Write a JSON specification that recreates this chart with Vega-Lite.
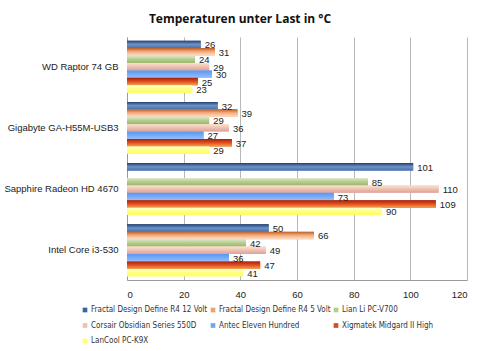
{
  "$schema": "https://vega.github.io/schema/vega-lite/v6.json",
  "width": 340,
  "height": 243,
  "autosize": "none",
  "padding": {"left": 127, "top": 37, "right": 33, "bottom": 71},
  "background": "white",
  "title": {"text": "Temperaturen unter Last in °C", "font": "Open Sans", "fontSize": 12, "fontWeight": "bold", "color": "#111111", "anchor": "middle", "dx": -57, "offset": 11},
  "config": {"view": {"stroke": null}, "font": "Liberation Sans"},
  "data": {"values": [
    {"cat": "WD Raptor 74 GB", "case": "Fractal Design Define R4 12 Volt", "t": 26},
    {"cat": "WD Raptor 74 GB", "case": "Fractal Design Define R4 5 Volt", "t": 31},
    {"cat": "WD Raptor 74 GB", "case": "Lian Li PC-V700", "t": 24},
    {"cat": "WD Raptor 74 GB", "case": "Corsair Obsidian Series 550D", "t": 29},
    {"cat": "WD Raptor 74 GB", "case": "Antec Eleven Hundred", "t": 30},
    {"cat": "WD Raptor 74 GB", "case": "Xigmatek Midgard II High", "t": 25},
    {"cat": "WD Raptor 74 GB", "case": "LanCool PC-K9X", "t": 23},
    {"cat": "Gigabyte GA-H55M-USB3", "case": "Fractal Design Define R4 12 Volt", "t": 32},
    {"cat": "Gigabyte GA-H55M-USB3", "case": "Fractal Design Define R4 5 Volt", "t": 39},
    {"cat": "Gigabyte GA-H55M-USB3", "case": "Lian Li PC-V700", "t": 29},
    {"cat": "Gigabyte GA-H55M-USB3", "case": "Corsair Obsidian Series 550D", "t": 36},
    {"cat": "Gigabyte GA-H55M-USB3", "case": "Antec Eleven Hundred", "t": 27},
    {"cat": "Gigabyte GA-H55M-USB3", "case": "Xigmatek Midgard II High", "t": 37},
    {"cat": "Gigabyte GA-H55M-USB3", "case": "LanCool PC-K9X", "t": 29},
    {"cat": "Sapphire Radeon HD 4670", "case": "Fractal Design Define R4 12 Volt", "t": 101},
    {"cat": "Sapphire Radeon HD 4670", "case": "Lian Li PC-V700", "t": 85},
    {"cat": "Sapphire Radeon HD 4670", "case": "Corsair Obsidian Series 550D", "t": 110},
    {"cat": "Sapphire Radeon HD 4670", "case": "Antec Eleven Hundred", "t": 73},
    {"cat": "Sapphire Radeon HD 4670", "case": "Xigmatek Midgard II High", "t": 109},
    {"cat": "Sapphire Radeon HD 4670", "case": "LanCool PC-K9X", "t": 90},
    {"cat": "Intel Core i3-530", "case": "Fractal Design Define R4 12 Volt", "t": 50},
    {"cat": "Intel Core i3-530", "case": "Fractal Design Define R4 5 Volt", "t": 66},
    {"cat": "Intel Core i3-530", "case": "Lian Li PC-V700", "t": 42},
    {"cat": "Intel Core i3-530", "case": "Corsair Obsidian Series 550D", "t": 49},
    {"cat": "Intel Core i3-530", "case": "Antec Eleven Hundred", "t": 36},
    {"cat": "Intel Core i3-530", "case": "Xigmatek Midgard II High", "t": 47},
    {"cat": "Intel Core i3-530", "case": "LanCool PC-K9X", "t": 41}
  ]},
  "encoding": {
    "y": {"field": "cat", "type": "nominal",
      "scale": {"domain": ["WD Raptor 74 GB", "Gigabyte GA-H55M-USB3", "Sapphire Radeon HD 4670", "Intel Core i3-530"], "paddingInner": 0.15, "paddingOuter": 0.06},
      "axis": {"title": null, "labelFontSize": 9.5, "labelColor": "#222222", "labelPadding": 9, "ticks": false, "domainColor": "#9a9a9a", "labelFont": "Liberation Sans"}},
    "yOffset": {"field": "case", "type": "nominal",
      "scale": {"domain": ["Fractal Design Define R4 12 Volt", "Fractal Design Define R4 5 Volt", "Lian Li PC-V700", "Corsair Obsidian Series 550D", "Antec Eleven Hundred", "Xigmatek Midgard II High", "LanCool PC-K9X"], "paddingInner": 0, "paddingOuter": 0}},
    "x": {"field": "t", "type": "quantitative", "scale": {"domain": [0, 120]},
      "axis": {"title": null, "values": [0, 20, 40, 60, 80, 100, 120], "labelFontSize": 9.5, "labelColor": "#222222", "gridColor": "#b8b8b8", "domainColor": "#9a9a9a", "ticks": false, "labelPadding": 9, "labelFont": "Liberation Sans"}}
  },
  "layer": [
    {"mark": {"type": "bar"},
     "encoding": {
       "color": {"field": "case", "type": "nominal",
         "scale": {"domain": ["Fractal Design Define R4 12 Volt", "Fractal Design Define R4 5 Volt", "Lian Li PC-V700", "Corsair Obsidian Series 550D", "Antec Eleven Hundred", "Xigmatek Midgard II High", "LanCool PC-K9X"],
           "range": ["#3e64a0", "#f0a070", "#b6cc8e", "#eec0ae", "#6ea6f4", "#d84a20", "#ffff70"]},
         "legend": {"title": null, "orient": "none", "legendX": -46, "legendY": 269, "direction": "horizontal", "columns": 3, "symbolType": "square", "symbolSize": 22, "symbolStrokeWidth": 0, "labelFontSize": 8, "labelFont": "'DejaVu Sans Condensed', 'Liberation Sans', sans-serif", "labelColor": "#333333", "columnPadding": 1, "rowPadding": 7.5, "labelOffset": 2, "labelLimit": 200}}
     }},
    {"transform": [{"filter": "datum.case == 'Fractal Design Define R4 12 Volt'"}],
     "mark": {"type": "bar", "color": {"gradient": "linear", "x1": 0, "y1": 0, "x2": 0, "y2": 1, "stops": [{"offset": 0, "color": "#22406f"}, {"offset": 0.5, "color": "#6d92c8"}, {"offset": 1, "color": "#4a70a8"}]}}},
    {"transform": [{"filter": "datum.case == 'Fractal Design Define R4 5 Volt'"}],
     "mark": {"type": "bar", "color": {"gradient": "linear", "x1": 0, "y1": 0, "x2": 0, "y2": 1, "stops": [{"offset": 0, "color": "#b8602a"}, {"offset": 0.45, "color": "#f4a877"}, {"offset": 1, "color": "#fde0c8"}]}}},
    {"transform": [{"filter": "datum.case == 'Lian Li PC-V700'"}],
     "mark": {"type": "bar", "color": {"gradient": "linear", "x1": 0, "y1": 0, "x2": 0, "y2": 1, "stops": [{"offset": 0, "color": "#dfe9cf"}, {"offset": 0.5, "color": "#b6cc8e"}, {"offset": 1, "color": "#9ab86a"}]}}},
    {"transform": [{"filter": "datum.case == 'Corsair Obsidian Series 550D'"}],
     "mark": {"type": "bar", "color": {"gradient": "linear", "x1": 0, "y1": 0, "x2": 0, "y2": 1, "stops": [{"offset": 0, "color": "#fbe3cf"}, {"offset": 0.5, "color": "#eec0ae"}, {"offset": 1, "color": "#dca0a0"}]}}},
    {"transform": [{"filter": "datum.case == 'Antec Eleven Hundred'"}],
     "mark": {"type": "bar", "color": {"gradient": "linear", "x1": 0, "y1": 0, "x2": 0, "y2": 1, "stops": [{"offset": 0, "color": "#5c98ee"}, {"offset": 0.5, "color": "#75aaf6"}, {"offset": 1, "color": "#98c0fa"}]}}},
    {"transform": [{"filter": "datum.case == 'Xigmatek Midgard II High'"}],
     "mark": {"type": "bar", "color": {"gradient": "linear", "x1": 0, "y1": 0, "x2": 0, "y2": 1, "stops": [{"offset": 0, "color": "#a8200e"}, {"offset": 0.5, "color": "#e0501e"}, {"offset": 1, "color": "#f5a050"}]}}},
    {"transform": [{"filter": "datum.case == 'LanCool PC-K9X'"}],
     "mark": {"type": "bar", "color": {"gradient": "linear", "x1": 0, "y1": 0, "x2": 0, "y2": 1, "stops": [{"offset": 0, "color": "#ffffd0"}, {"offset": 0.5, "color": "#ffff80"}, {"offset": 1, "color": "#ffff60"}]}}},
    {"mark": {"type": "text", "align": "left", "baseline": "middle", "dx": 4, "dy": 1, "fontSize": 9.5, "color": "#222222", "font": "Liberation Sans"},
     "encoding": {"text": {"field": "t", "type": "quantitative"}}}
  ]
}
